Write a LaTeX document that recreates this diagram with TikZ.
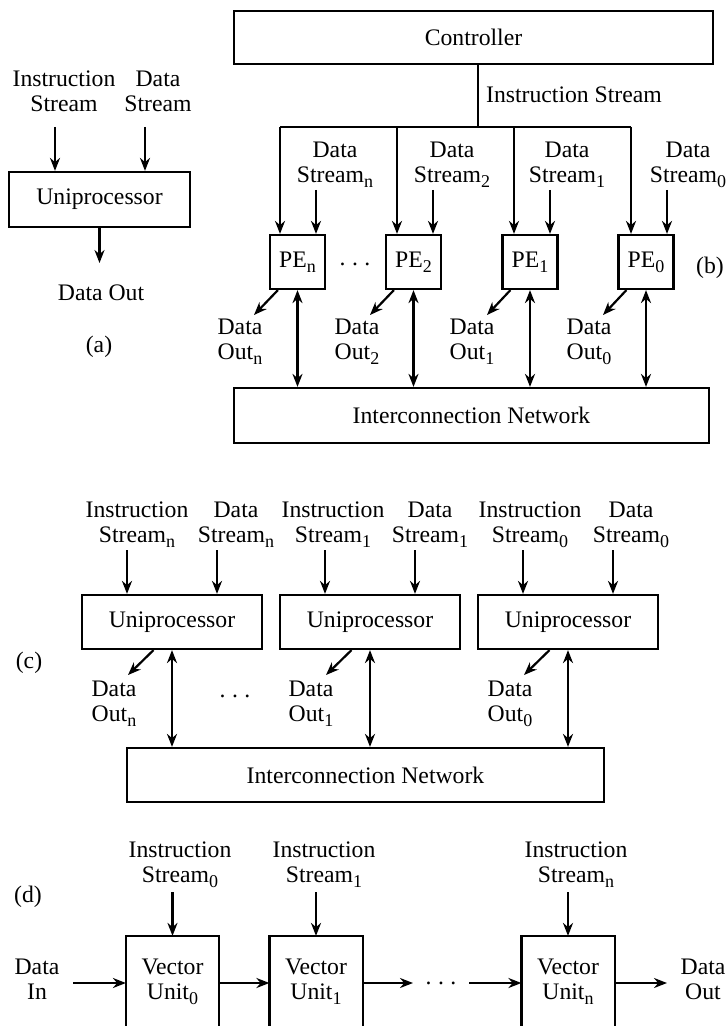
\documentclass[tikz,border=0pt]{standalone}
\usepackage{fontspec}
\setmainfont{Liberation Serif}
\usetikzlibrary{arrows.meta}

\newcommand{\sbs}[1]{\raisebox{-2.6pt}{\fontsize{9}{9}\selectfont #1}}
\newcommand{\gapdots}{.\hspace{3.2pt}.\hspace{3.2pt}.}

\tikzset{
  unit/.style={draw,inner sep=0pt},
  lbl/.style={align=center,inner sep=0pt},
  pe/.style={unit,minimum width=27.5pt,minimum height=27pt},
  uproc/.style={unit,minimum width=90pt,minimum height=27pt},
  vu/.style={lbl,minimum width=45.5pt,minimum height=44.5pt},
}

\begin{document}
\begin{tikzpicture}[x=0.5pt,y=-0.5pt,>={Stealth[length=6.5pt,width=5pt]},font=\fontsize{11.85}{12.5}\selectfont,line width=1.1pt]
\useasboundingbox (0,0) rectangle (726,1026);
% (a)
\node[lbl] (isa) at (64,91) {Instruction\\Stream};
\node[lbl] (dsa) at (158,91) {Data\\Stream};
\node[unit,minimum width=90.5pt,minimum height=27.5pt] (unia) at (99.5,199.5) {Uniprocessor};
\node[lbl] (doa) at (101,293) {Data Out};
\node[lbl] (capa) at (99,347) {(a)};
\coordinate (ia) at (55,127);
\coordinate (da) at (145,127);
\coordinate (oa) at (99.5,263);
\draw[->] (ia) -- (ia |- unia.north);
\draw[->] (da) -- (da |- unia.north);
\draw[->] (unia.south) -- (oa);
% (b)
\node[unit,minimum width=239.5pt,minimum height=26.5pt] (ctrl) at (473.5,37.5) {Controller};
\node[lbl,anchor=west] (isb) at (485,95) {Instruction Stream};
\node[pe] (pen) at (297.5,262) {PE\sbs{n}};
\node[pe] (pe2) at (413.5,262) {PE\sbs{2}};
\node[pe] (pe1) at (530,262) {PE\sbs{1}};
\node[pe] (pe0) at (646,262) {PE\sbs{0}};
\node[lbl] (dotsb) at (355,264) {\gapdots};
\node[lbl] (capb) at (710,268) {(b)};
\node[lbl] (dsn) at (335,165) {Data\\Stream\sbs{n}};
\node[lbl] (ds2) at (452,165) {Data\\Stream\sbs{2}};
\node[lbl] (ds1) at (567,165) {Data\\Stream\sbs{1}};
\node[lbl] (ds0) at (688,165) {Data\\Stream\sbs{0}};
\node[lbl] (dbn) at (240,342) {Data\\Out\sbs{n}};
\node[lbl] (db2) at (357,342) {Data\\Out\sbs{2}};
\node[lbl] (db1) at (472,342) {Data\\Out\sbs{1}};
\node[lbl] (db0) at (589,342) {Data\\Out\sbs{0}};
\node[unit,minimum width=237.5pt,minimum height=27.5pt] (netb) at (471.5,415.5) {Interconnection Network};
\coordinate (bj) at (478,127);
\coordinate (in) at (280,127);
\coordinate (i2) at (397,127);
\coordinate (i1) at (514,127);
\coordinate (i0) at (631,127);
\coordinate (sn) at (316,190);
\coordinate (s2) at (433,190);
\coordinate (s1) at (550,190);
\coordinate (s0) at (667,190);
\coordinate (on) at (254,315);
\coordinate (o2) at (370,315);
\coordinate (o1) at (487,315);
\coordinate (o0) at (603,315);
\draw (bj |- ctrl.south) -- (bj);
\draw (in) -- (i0);
\draw[->] (in) -- (in |- pen.north);
\draw[->] (i2) -- (i2 |- pe2.north);
\draw[->] (i1) -- (i1 |- pe1.north);
\draw[->] (i0) -- (i0 |- pe0.north);
\draw[->] (sn) -- (sn |- pen.north);
\draw[->] (s2) -- (s2 |- pe2.north);
\draw[->] (s1) -- (s1 |- pe1.north);
\draw[->] (s0) -- (s0 |- pe0.north);
\draw[->] ([xshift=4.5pt]pen.south west) -- (on);
\draw[->] ([xshift=4.5pt]pe2.south west) -- (o2);
\draw[->] ([xshift=4.5pt]pe1.south west) -- (o1);
\draw[->] ([xshift=4.5pt]pe0.south west) -- (o0);
\draw[<->] (pen.south) -- (pen.south |- netb.north);
\draw[<->] (pe2.south) -- (pe2.south |- netb.north);
\draw[<->] (pe1.south) -- (pe1.south |- netb.north);
\draw[<->] (pe0.south) -- (pe0.south |- netb.north);
% (c)
\node[lbl] (isn) at (137,525) {Instruction\\Stream\sbs{n}};
\node[lbl] (dscn) at (236,525) {Data\\Stream\sbs{n}};
\node[lbl] (is1) at (333,525) {Instruction\\Stream\sbs{1}};
\node[lbl] (dsc1) at (430,525) {Data\\Stream\sbs{1}};
\node[lbl] (is0) at (530,525) {Instruction\\Stream\sbs{0}};
\node[lbl] (dsc0) at (631,525) {Data\\Stream\sbs{0}};
\node[uproc] (upn) at (172,622) {Uniprocessor};
\node[uproc] (up1) at (370,622) {Uniprocessor};
\node[uproc] (up0) at (568,622) {Uniprocessor};
\node[lbl] (dcn) at (114,704) {Data\\Out\sbs{n}};
\node[lbl] (dc1) at (311,704) {Data\\Out\sbs{1}};
\node[lbl] (dc0) at (510,704) {Data\\Out\sbs{0}};
\node[lbl] (dotsc) at (235,696) {\gapdots};
\node[lbl] (capc) at (29,663) {(c)};
\node[unit,minimum width=238.5pt,minimum height=27pt] (netc) at (365.5,775) {Interconnection Network};
\coordinate (cin) at (127,550);
\coordinate (cdn) at (217,550);
\coordinate (ci1) at (325,550);
\coordinate (cd1) at (415,550);
\coordinate (ci0) at (523,550);
\coordinate (cd0) at (613,550);
\coordinate (con) at (128,675);
\coordinate (co1) at (326,675);
\coordinate (co0) at (524,675);
\draw[->] (cin) -- (cin |- upn.north);
\draw[->] (cdn) -- (cdn |- upn.north);
\draw[->] (ci1) -- (ci1 |- up1.north);
\draw[->] (cd1) -- (cd1 |- up1.north);
\draw[->] (ci0) -- (ci0 |- up0.north);
\draw[->] (cd0) -- (cd0 |- up0.north);
\draw[->] ([xshift=-9.25pt]upn.south) -- (con);
\draw[->] ([xshift=-9.25pt]up1.south) -- (co1);
\draw[->] ([xshift=-9.25pt]up0.south) -- (co0);
\draw[<->] (upn.south) -- (upn.south |- netc.north);
\draw[<->] (up1.south) -- (up1.south |- netc.north);
\draw[<->] (up0.south) -- (up0.south |- netc.north);
% (d)
\node[lbl] (iv0) at (180,865) {Instruction\\Stream\sbs{0}};
\node[lbl] (iv1) at (324,865) {Instruction\\Stream\sbs{1}};
\node[lbl] (ivn) at (576,865) {Instruction\\Stream\sbs{n}};
\node[lbl] (capd) at (28,897) {(d)};
\node[vu] (vu0) at (172.5,981.5) {Vector\\Unit\sbs{0}};
\node[vu] (vu1) at (316,981.5) {Vector\\Unit\sbs{1}};
\node[vu] (vun) at (568,981.5) {Vector\\Unit\sbs{n}};
\draw (vu0.south west) |- (vu0.north east) -- (vu0.south east);
\draw (vu1.south west) |- (vu1.north east) -- (vu1.south east);
\draw (vun.south west) |- (vun.north east) -- (vun.south east);
\node[lbl] (din) at (37,979) {Data\\In};
\node[lbl] (dout) at (703,979) {Data\\Out};
\node[lbl] (dotsd) at (441,983) {\gapdots};
\coordinate (tv0) at (172.5,892);
\coordinate (tv1) at (316,892);
\coordinate (tvn) at (568,892);
\coordinate (fin) at (73,983);
\coordinate (fd1) at (413,983);
\coordinate (fd2) at (469,983);
\coordinate (fout) at (667,983);
\draw[->] (tv0) -- (vu0.north);
\draw[->] (tv1) -- (vu1.north);
\draw[->] (tvn) -- (vun.north);
\draw[->] (fin) -- (fin -| vu0.west);
\draw[->] (vu0.east |- fin) -- (vu1.west |- fin);
\draw[->] (vu1.east |- fin) -- (fd1);
\draw[->] (fd2) -- (fd2 -| vun.west);
\draw[->] (vun.east |- fin) -- (fout);
\end{tikzpicture}
\end{document}
